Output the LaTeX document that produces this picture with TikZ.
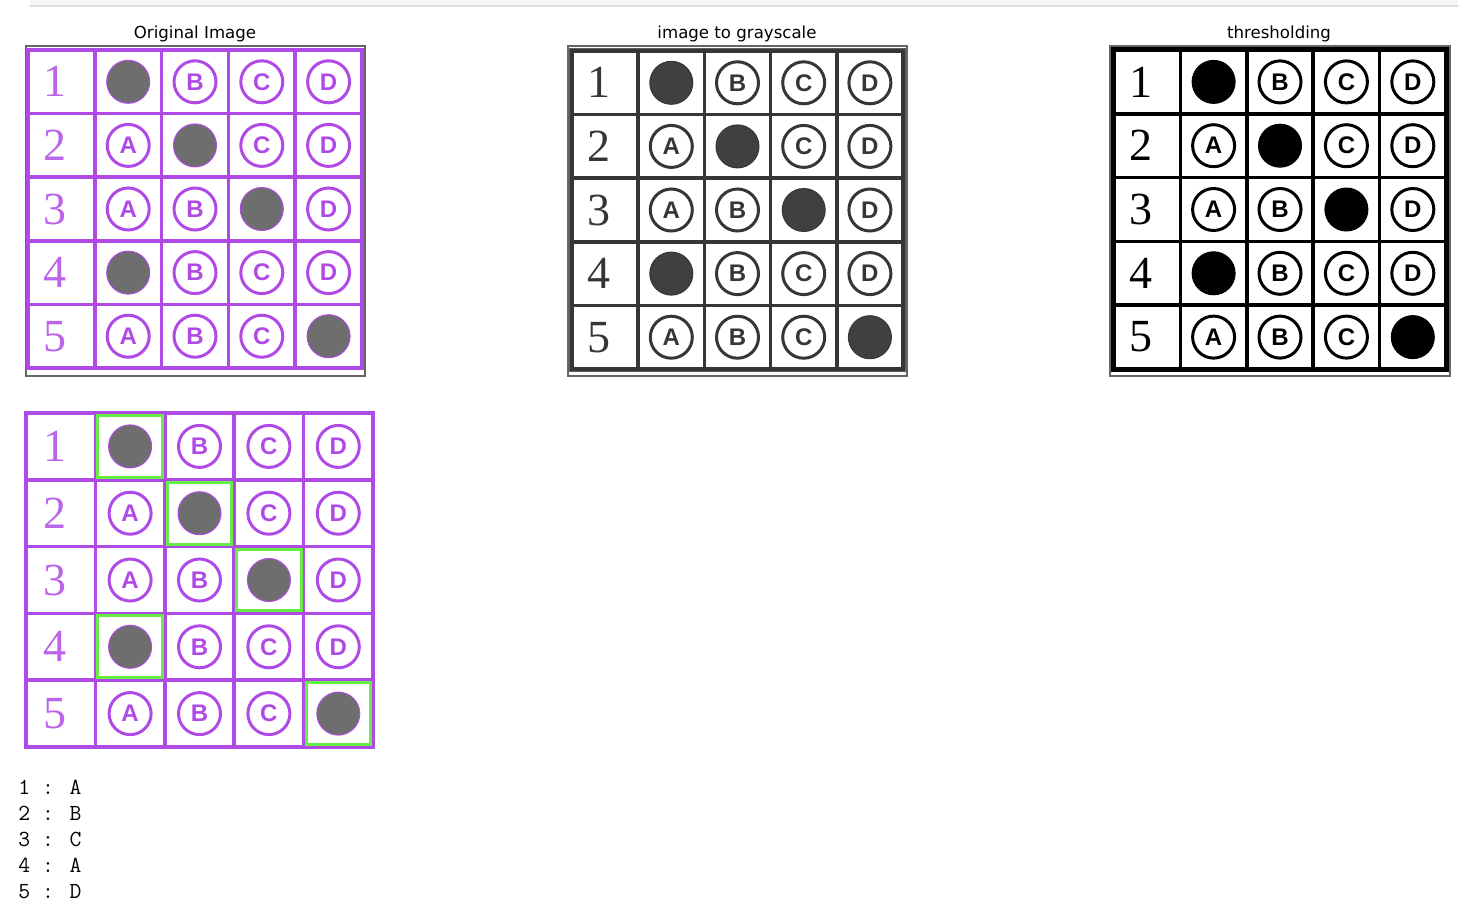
\documentclass[tikz,border=0pt]{standalone}
\usepackage{fontspec}
\setmainfont{Liberation Serif}
\newfontfamily\titlefont{DejaVu Sans}
\newfontfamily\letterfont{Liberation Sans}

\definecolor{omrpurple}{HTML}{B04AE6}
\definecolor{omrgreen}{HTML}{66EE44}
\definecolor{omrgray}{HTML}{6E6E6E}
\definecolor{darkline}{HTML}{363636}

\tikzset{
  bubble/.style={circle,inner sep=0pt,minimum size=21pt,line width=1.5pt,
    font=\letterfont\bfseries\fontsize{12}{12}\selectfont},
  rownum/.style={font=\fontsize{23}{23}\selectfont},
  paneltitle/.style={font=\titlefont\fontsize{8.3}{10}\selectfont,anchor=base},
  axframe/.style={draw=black!60,line width=0.6pt},
  answer/.style={font=\ttfamily\fontsize{11.5}{13}\selectfont,anchor=base west,inner sep=0pt}
}

\begin{document}
\begin{tikzpicture}[x=0.5pt,y=-0.5pt]

\useasboundingbox (0,0) rectangle (1476,916);
\fill[gray!7] (30,-2) rectangle (1458,6);
\draw[gray!25,line width=0.6pt] (30,6) -- (1458,6);

\def\sheet#1#2#3#4#5#6{
\pgfmathsetmacro\cw{#2/5}
\pgfmathsetmacro\ch{#3/5}
\foreach \i in {1,...,4} {
	\draw[#4,line width=1.8pt] ({\i*\cw},0) -- ({\i*\cw},#3);
	\draw[#4,line width=1.8pt] (0,{\i*\ch}) -- (#2,{\i*\ch});
}
\draw[#4,line width=2pt] (0,0) rectangle (#2,#3);
\foreach \r/\ans in {1/1,2/2,3/3,4/1,5/4} {
	\node[rownum,text=#6] (#1-\r) at ({0.5*\cw-6},{(\r-0.5)*\ch}) {\r};
	\foreach \c/\l in {1/A,2/B,3/C,4/D} {
		\ifnum\c=\ans
			\node[bubble,fill=#5,draw=#4,line width=0.5pt,minimum size=21.5pt] (#1-\r-\l) at ({(\c+0.5)*\cw},{(\r-0.5)*\ch}) {};
		\else
			\node[bubble,draw=#4,text=#4] (#1-\r-\l) at ({(\c+0.5)*\cw},{(\r-0.5)*\ch}) {\l};
		\fi
	}
}
}

\node[paneltitle] (t-orig) at (195,38) {Original Image};
\node[paneltitle] (t-gray) at (737,38) {image to grayscale};
\node[paneltitle] (t-thresh) at (1279,38) {thresholding};

\draw[axframe] (26,46) rectangle (365,376);
\draw[axframe] (568,46) rectangle (907,376);
\draw[axframe] (1110,46) rectangle (1450,376);

\begin{scope}[shift={(28,50)}]
\sheet{orig}{334}{318}{omrpurple}{omrgray}{omrpurple!85}
\end{scope}

\begin{scope}[shift={(572,51)}]
\sheet{gray}{331}{318}{darkline}{darkline!95}{darkline}
\draw[darkline!80,line width=0.6pt] (-2.5,-2.5) rectangle (333.5,320.5);
\end{scope}

\begin{scope}[shift={(1114,50)}]
\sheet{thresh}{332}{319}{black}{black}{black}
\draw[black,line width=0.6pt] (-2.5,-2.5) rectangle (334.5,321.5);
\end{scope}

\begin{scope}[shift={(26,413)}]
\sheet{found}{347}{334}{omrpurple}{omrgray}{omrpurple!85}
\foreach \r/\c in {1/1,2/2,3/3,4/1,5/4}
	\draw[omrgreen,line width=1.5pt] ({\c*\cw+2.5},{(\r-1)*\ch+2.5}) rectangle ({(\c+1)*\cw-2.5},{\r*\ch-2.5});
\end{scope}

\foreach \r/\l in {1/A,2/B,3/C,4/A,5/D}
	\node[answer] (ans-\r) at (18,{768+26*\r}) {\r{} : \l};

\end{tikzpicture}
\end{document}
